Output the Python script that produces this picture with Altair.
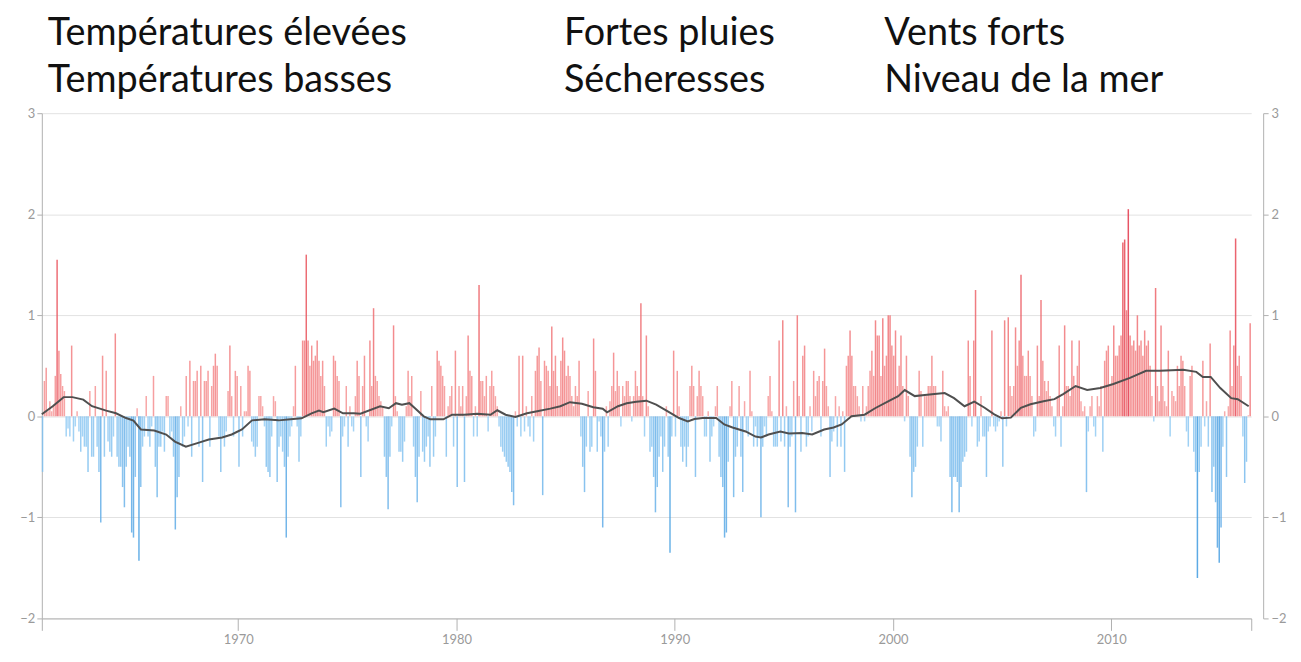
import altair as alt
import pandas as pd

START_YEAR = 1961

vals_1960s = [
    -0.55, 0.35, 0.48, 0.05, 0.15, 0.05, 0.1, 0.4, 1.55, 0.65, 0.42, 0.3,
    0.25, -0.2, -0.12, -0.2, 0.7, -0.25, -0.1, 0.05, -0.15, -0.35, -0.2, -0.3,
    -0.3, -0.55, 0.25, -0.4, -0.4, 0.3, -0.3, -0.55, -1.05, 0.6, -0.4, 0.45,
    -0.25, -0.35, -0.4, -0.2, 0.82, -0.4, -0.5, -0.5, -0.7, -0.9, -0.5, -0.3,
    -0.4, -1.15, -1.2, -0.6, 0.08, -1.43, -0.7, -0.3, -0.2, 0.2, -0.2, -0.3,
    -0.1, 0.4, -0.5, -0.8, -0.3, -0.3, -0.15, -0.35, 0.2, 0.2, -0.2, -0.15,
    -0.4, -1.12, -0.8, -0.6, 0.1, -0.3, -0.2, 0.4, -0.1, 0.55, -0.4, 0.35,
    0.35, 0.45, -0.3, 0.5, -0.65, 0.35, 0.35, 0.45, -0.3, 0.3, 0.5, 0.62,
    0.5, -0.2, -0.55, -0.2, -0.3, -0.15, 0.25, 0.7, 0.2, -0.2, 0.45, 0.4,
]
vals_1970s = [
    -0.5, 0.3, -0.2, 0.05, 0.05, 0.5, 0.45, -0.25, -0.3, -0.4, -0.3, 0.2,
    0.2, 0.1, -0.1, -0.5, -0.55, -0.6, -0.2, 0.2, 0.15, -0.65, -0.3, -0.2,
    -0.35, -0.5, -1.2, -0.4, -0.2, -0.1, 0.1, 0.5, -0.1, -0.45, -0.2, 0.75,
    0.75, 1.6, 0.75, 0.5, 0.7, 0.55, 0.6, 0.75, 0.55, 0.4, 0.55, 0.3,
    -0.3, -0.1, -0.2, -0.15, 0.6, 0.55, 0.4, 0.35, -0.9, -0.2, -0.1, 0.3,
    -0.3, 0.1, -0.1, -0.15, 0.2, 0.55, 0.4, -0.6, 0.3, 0.6, -0.1, -0.25,
    0.75, 0.3, 1.07, 0.4, 0.35, 0.2, 0.15, 0.1, -0.4, -0.6, -0.92, -0.4,
    -0.1, 0.9, 0.2, 0.05, -0.35, -0.35, -0.45, -0.25, 0.1, 0.45, 0.2, 0.4,
    -0.3, -0.6, -0.85, -0.4, 0.25, -0.35, -0.45, -0.3, -0.2, -0.5, 0.3, -0.4,
    -0.2, 0.65, 0.55, 0.5, 0.4, 0.3, -0.4, 0.1, 0.2, 0.3, -0.3, 0.65,
]
vals_1980s = [
    -0.7, 0.3, 0.1, 0.3, -0.65, 0.2, 0.8, 0.45, 0.4, -0.2, 0.1, -0.2,
    1.3, 0.35, 0.35, 0.2, 0.4, -0.15, 0.3, 0.45, 0.3, 0.2, 0.1, -0.1,
    -0.3, -0.35, -0.4, -0.45, -0.5, -0.55, -0.75, -0.88, 0.05, -0.1, 0.6, -0.2,
    0.6, -0.15, 0.1, -0.1, -0.2, 0.2, -0.25, 0.45, 0.6, 0.68, 0.35, -0.78,
    0.55, 0.5, 0.45, 0.3, 0.89, 0.45, 0.6, 0.3, 0.2, 0.55, 0.78, 0.65,
    0.4, 0.5, 0.4, 0.2, 0.1, 0.3, 0.2, 0.55, -0.2, -0.5, -0.75, -0.3,
    0.25, -0.35, -0.3, 0.77, 0.45, -0.35, -0.05, -0.2, -1.1, -0.35, 0.1, -0.3,
    0.15, 0.3, 0.63, 0.25, 0.45, 0.3, -0.1, 0.3, 0.2, 0.35, 0.35, 0.2,
    -0.05, 0.2, 0.45, 0.3, 0.2, 1.12, 0.2, -0.2, 0.8, 0.1, -0.35, -0.3,
    -0.6, -0.95, -0.7, -0.4, -0.2, -0.55, -0.3, 0.1, -0.4, -1.35, -0.2, 0.65,
]
vals_1990s = [
    -0.2, 0.45, 0.1, -0.3, -0.45, -0.3, -0.5, -0.3, 0.3, 0.5, 0.3, -0.6,
    0.2, 0.45, 0.3, 0.2, -0.2, -0.2, 0.05, -0.45, -0.2, -0.1, 0.1, 0.3,
    -0.4, -0.6, -0.7, -1.2, -1.15, -0.45, 0.1, 0.35, -0.8, -0.4, -0.3, 0.3,
    -0.4, -0.75, 0.15, -0.15, -0.2, 0.45, 0.05, -0.3, -0.1, -0.3, -0.2, -1.0,
    -0.3, -0.1, -0.2, 0.2, 0.4, 0.05, -0.3, -0.3, -0.3, 0.75, -0.25, 0.95,
    -0.3, 0.1, -0.9, -0.3, -0.2, 0.35, -0.95, 1.0, 0.2, -0.35, 0.6, 0.7,
    -0.3, -0.2, 0.1, -0.15, 0.45, 0.2, 0.35, 0.4, -0.2, 0.35, 0.67, 0.3,
    0.1, -0.6, -0.25, -0.15, 0.2, -0.3, 0.1, -0.3, 0.05, -0.55, 0.5, 0.6,
    0.85, 0.6, 0.3, 0.3, 0.2, 0.1, -0.05, 0.3, -0.05, 0.1, 0.3, 0.45,
    0.65, 0.4, 0.95, 0.8, 0.8, 0.4, 0.97, 0.5, 0.6, 1.0, 1.0, 0.7,
]
vals_2000s = [
    0.6, 0.85, 0.3, 0.5, 0.8, 0.3, -0.05, 0.6, 0.2, -0.4, -0.8, -0.55,
    -0.5, -0.3, 0.45, 0.25, -0.3, 0.2, 0.2, 0.3, 0.3, 0.6, 0.3, 0.3,
    -0.1, -0.1, -0.25, 0.45, 0.1, 0.05, 0.1, -0.6, -0.95, -0.6, -0.6, -0.65,
    -0.95, -0.7, -0.45, -0.4, -0.35, 0.75, 0.4, -0.1, 0.75, 1.25, -0.3, -0.25,
    0.2, -0.2, -0.2, -0.6, -0.15, -0.1, 0.85, -0.1, -0.15, -0.1, -0.05, 0.05,
    -0.5, 0.95, -0.1, 0.98, 0.3, 0.2, 0.3, 0.88, 0.5, 0.75, 1.4, 0.6,
    0.4, 0.4, 0.65, 0.4, 0.2, -0.2, -0.15, 0.7, 0.2, 1.15, 0.55, 0.35,
    0.25, 0.35, 0.2, 0.1, -0.1, -0.2, 0.2, 0.7, -0.3, 0.1, 0.9, 0.3,
    0.3, 0.2, 0.75, 0.4, 0.3, 0.5, 0.75, 0.15, 0.05, 0.1, -0.75, -0.15,
    0.1, 0.2, -0.1, -0.2, 0.2, 0.1, 0.3, -0.35, 0.55, 0.65, 0.7, 0.3,
]
vals_2010s = [
    0.4, 0.9, 0.6, 0.6, 0.7, 0.8, 1.72, 1.75, 1.05, 2.05, 0.8, 0.7,
    0.75, 0.65, 1.0, 0.7, 0.75, 0.6, 0.85, 0.7, 0.75, 0.5, 0.2, -0.05,
    1.27, 0.3, 0.15, 0.9, 0.3, 0.15, 0.1, 0.65, -0.2, 0.25, 0.2, 0.15,
    0.5, 0.3, 0.6, 0.55, 0.3, -0.15, -0.3, 0.4, 0.5, -0.35, -0.55, -1.6,
    -0.55, -0.3, 0.55, -0.1, 0.15, -0.3, 0.72, -0.75, -0.5, -0.85, -1.3, -1.45,
    -1.1, -0.3, 0.05, -0.6, 0.1, 0.85, 0.3, 0.7, 1.76, 0.5, 0.6, 0.4,
    -0.2, -0.66, -0.45, 0.01, 0.92,
]

# running mean (dark line)
line_years = [
    1961.0, 1961.5, 1962.0, 1962.4, 1962.9, 1963.3, 1963.95, 1964.4, 1964.86, 1965.2,
    1965.54, 1966.15, 1966.7, 1967.1, 1967.6, 1968.2, 1968.65, 1969.26, 1969.7, 1970.17,
    1970.63, 1971.2, 1971.85, 1972.4, 1972.9, 1973.36, 1973.7, 1973.9, 1974.4, 1974.8,
    1975.3, 1975.6, 1976.5, 1976.9, 1977.23, 1977.5, 1977.84, 1978.1, 1978.5, 1978.8,
    1979.4, 1979.8, 1980.35, 1980.95, 1981.56, 1981.87, 1982.25, 1982.7, 1983.23, 1983.7,
    1984.3, 1984.76, 1985.2, 1985.75, 1986.27, 1986.7, 1986.9, 1987.4, 1987.8, 1988.24,
    1988.7, 1989.15, 1989.76, 1990.2, 1990.6, 1990.9, 1991.28, 1991.9, 1992.27, 1992.65,
    1993.25, 1993.7, 1993.95, 1994.3, 1994.84, 1995.23, 1995.84, 1996.3, 1996.85, 1997.28,
    1997.65, 1998.1, 1998.7, 1999.18, 1999.8, 2000.24, 2000.54, 2001.0, 2001.46, 2001.9,
    2002.37, 2002.8, 2003.28, 2003.73, 2004.2, 2004.64, 2005.0, 2005.4, 2005.86, 2006.3,
    2006.9, 2007.4, 2007.8, 2008.37, 2008.9, 2009.5, 2010.1, 2010.86, 2011.6, 2012.24,
    2013.3, 2013.9, 2014.2, 2014.56, 2015.0, 2015.5, 2015.8, 2016.3,
]
line_values = [
    0.02, 0.1, 0.19, 0.19, 0.165, 0.1, 0.056, 0.03, -0.017, -0.043,
    -0.13, -0.14, -0.18, -0.25, -0.3, -0.26, -0.23, -0.21, -0.18, -0.13,
    -0.04, -0.03, -0.04, -0.03, -0.02, 0.03, 0.056, 0.04, 0.076, 0.03,
    0.03, 0.026, 0.1, 0.08, 0.13, 0.115, 0.13, 0.08, 0.0, -0.03,
    -0.03, 0.016, 0.016, 0.026, 0.016, 0.06, 0.016, -0.006, 0.03, 0.05,
    0.076, 0.1, 0.14, 0.125, 0.09, 0.076, 0.04, 0.1, 0.13, 0.145,
    0.155, 0.115, 0.04, -0.017, -0.05, -0.026, -0.017, -0.017, -0.08, -0.11,
    -0.15, -0.2, -0.21, -0.18, -0.15, -0.17, -0.165, -0.18, -0.13, -0.11,
    -0.08, 0.0, 0.016, 0.08, 0.15, 0.2, 0.26, 0.2, 0.21, 0.22,
    0.23, 0.18, 0.1, 0.145, 0.085, 0.02, -0.02, -0.013, 0.085, 0.12,
    0.15, 0.17, 0.22, 0.3, 0.26, 0.28, 0.32, 0.38, 0.45, 0.45,
    0.46, 0.44, 0.39, 0.39, 0.28, 0.18, 0.17, 0.1,
]

headings_row1 = ["Températures élevées", "Fortes pluies", "Vents forts"]
headings_row2 = ["Températures basses", "Sécheresses", "Niveau de la mer"]
year_ticks = [1970, 1980, 1990, 2000, 2010]
y_ticks = [-2, -1, 0, 1, 2, 3]

values = vals_1960s + vals_1970s + vals_1980s + vals_1990s + vals_2000s + vals_2010s
n = len(values)
t_start = [START_YEAR + i / 12 for i in range(n)]
t_end = [START_YEAR + (i + 0.82) / 12 for i in range(n)]
x_max = START_YEAR + n / 12

bars_df = pd.DataFrame({"t": t_start, "t2": t_end, "v": values})
line_df = pd.DataFrame({"year": line_years, "val": line_values})

x_scale = alt.Scale(domain=[START_YEAR, x_max], nice=False, zero=False)
y_scale = alt.Scale(domain=[-2, 3], nice=False, zero=False)

AX_COLOR = "#b0b0b0"
LBL_COLOR = "#9a9a9a"

bars = alt.Chart(bars_df).mark_bar(opacity=0.85).encode(
    x=alt.X(
        "t:Q", scale=x_scale, title=None,
        axis=alt.Axis(
            values=[START_YEAR] + year_ticks + [x_max],
            format="d",
            labelExpr="datum.value % 10 == 0 ? datum.label : ''",
            grid=False, tickSize=12, tickColor=AX_COLOR, domainColor=AX_COLOR,
            labelColor=LBL_COLOR, labelFont="Lato", labelFontSize=13, labelPadding=3,
        ),
    ),
    x2="t2:Q",
    y=alt.Y(
        "v:Q", scale=y_scale, title=None,
        axis=alt.Axis(
            orient="left", values=y_ticks, grid=True, gridColor="#e2e2e2",
            tickSize=5, tickColor=AX_COLOR, domainColor=AX_COLOR,
            labelColor=LBL_COLOR, labelFont="Lato", labelFontSize=13, labelPadding=2,
        ),
    ),
    y2=alt.datum(0),
    color=alt.Color(
        "v:Q", legend=None,
        scale=alt.Scale(
            domain=[-1.6, -0.001, 0.001, 2.05],
            range=["#3f9be0", "#9ed2f6", "#f7a0a0", "#e3364a"],
        ),
    ),
)

line = alt.Chart(line_df).mark_line(color="#4f4f4f", strokeWidth=2).encode(
    x=alt.X("year:Q", scale=x_scale),
    y=alt.Y(
        "val:Q", scale=y_scale, title=None,
        axis=alt.Axis(
            orient="right", values=y_ticks, grid=False, offset=12,
            tickSize=5, tickColor=AX_COLOR, domainColor=AX_COLOR,
            labelColor=LBL_COLOR, labelFont="Lato", labelFontSize=13, labelPadding=3,
        ),
    ),
)

col_x = [6, 525, 847]
row_y = [-69, -21]
texts = []
for row, labels in zip(row_y, [headings_row1, headings_row2]):
    for cx, lab in zip(col_x, labels):
        texts.append(
            alt.Chart(pd.DataFrame({"label": [lab]})).mark_text(
                align="left", baseline="alphabetic", font="Lato", fontSize=38, color="#111111"
            ).encode(text="label:N", x=alt.value(cx), y=alt.value(row))
        )

chart = alt.layer(bars, line, *texts).resolve_scale(y="independent").properties(
    width=1216,
    height=508,
    autosize=alt.AutoSizeParams(type="none"),
    padding={"left": 34, "top": 104, "right": 42, "bottom": 30},
).configure_view(stroke=None)

chart.save("out.html", embed_options={"renderer": "svg", "actions": False})
